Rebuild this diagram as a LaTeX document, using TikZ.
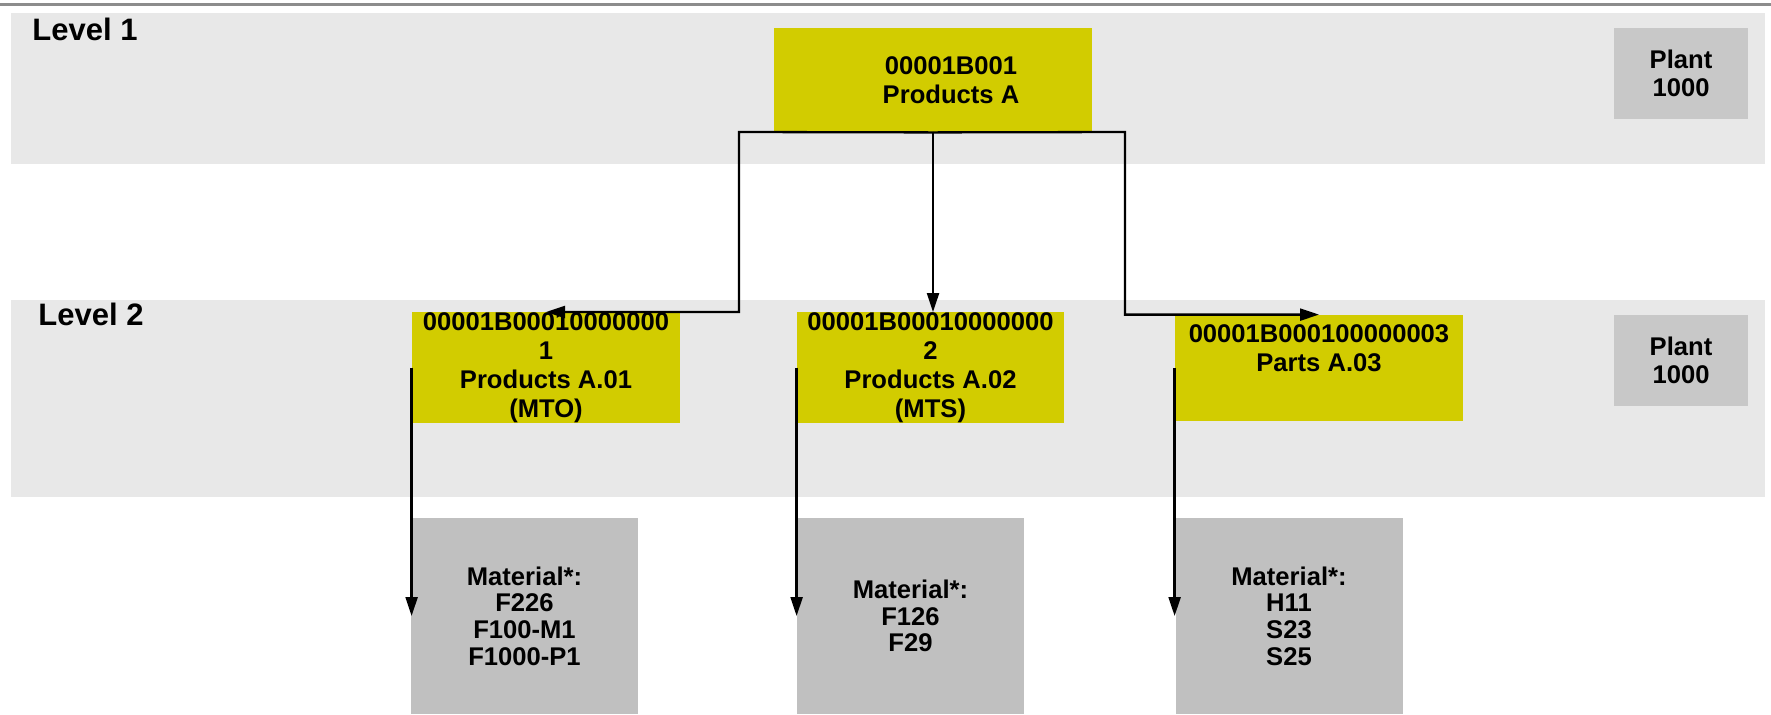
\documentclass[tikz,border=0pt]{standalone}
\usepackage{fontspec}
\setmainfont{Liberation Sans}
\usetikzlibrary{arrows.meta}
\definecolor{bandgray}{HTML}{E8E8E8}
\definecolor{plantgray}{HTML}{C8C8C8}
\definecolor{matgray}{HTML}{C0C0C0}
\definecolor{prodyellow}{HTML}{D2CC00}
\definecolor{rulegray}{HTML}{8C8C8C}

\begin{document}
\begin{tikzpicture}[x=0.5pt,y=-0.5pt,>={Triangle[length=9.5pt,width=6pt]},
    every node/.style={inner sep=0pt}]
  \tikzstyle{prodbox}=[rectangle,fill=prodyellow,align=center,font=\fontsize{12.8}{14.5}\selectfont\bfseries]
  \tikzstyle{plantbox}=[rectangle,fill=plantgray,align=center,minimum width=67pt,font=\fontsize{12.8}{14}\selectfont\bfseries]
  \tikzstyle{matbox}=[rectangle,fill=matgray,align=center,minimum width=113.5pt,minimum height=98pt,font=\fontsize{12.8}{13.3}\selectfont\bfseries]
  \tikzstyle{lvl}=[anchor=base west,font=\fontsize{15.5}{18}\selectfont\bfseries]
  \tikzstyle{link}=[line width=1.15pt]

  \useasboundingbox (0,0) rectangle (1771,714);
  \draw[rulegray,line width=1.5pt] (0,4) -- (1771,4);
  \fill[bandgray] (11,13) rectangle (1765,164);
  \fill[bandgray] (11,300) rectangle (1765,497);

  \node[lvl] (lvl1) at (32,40) {Level 1};
  \node[lvl] (lvl2) at (38,325) {Level 2};

  \node[prodbox,minimum width=159pt,minimum height=52pt] (top) at (933,80)
    {\hspace*{18pt}00001B001\\\hspace*{18pt}Products A};
  \node[plantbox,minimum height=45.5pt] (plant1) at (1681,73.5) {Plant\\1000};

  \node[prodbox,minimum width=134pt,minimum height=52.5pt] (a01) at (546,367.5)
    {00001B00010000000\\1\\Products A.01\\(MTO)};
  \node[prodbox,minimum width=133.5pt,minimum height=52.5pt] (a02) at (930.5,367.5)
    {00001B00010000000\\2\\Products A.02\\(MTS)};
  \node[prodbox,minimum width=144pt,minimum height=53pt,text depth=20pt] (a03) at (1319,368)
    {00001B000100000003\\Parts A.03};
  \node[plantbox,minimum height=45.5pt] (plant2) at (1681,360.5) {Plant\\1000};

  \node[matbox] (m1) at (524.5,616) {Material*:\\F226\\F100-M1\\F1000-P1};
  \node[matbox] (m2) at (910.5,616) {Material*:\\F126\\F29};
  \node[matbox] (m3) at (1289,616) {Material*:\\H11\\S23\\S25};

  \coordinate (jl) at (739,132);
  \coordinate (jr) at (1125,132);
  \draw[link,->] (top.south) -- (jl) |- (a01.north);
  \draw[link,->] (top.south) -- (top.south |- a02.north);
  \draw[link,->] (top.south) -- (jr) |- (a03.north);

  \draw[link,->] (a01.west) -- (a01.west |- m1.west);
  \draw[link,->] (a02.west) -- (a02.west |- m2.west);
  \draw[link,->] (a03.west) -- (a03.west |- m3.west);
\end{tikzpicture}
\end{document}
